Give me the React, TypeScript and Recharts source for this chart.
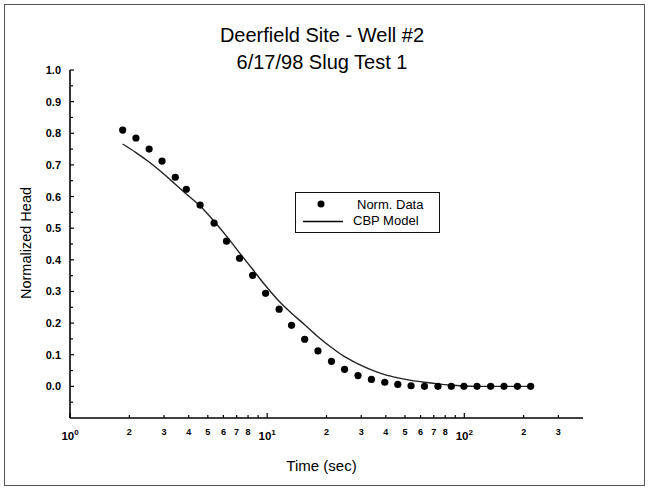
import React from "react";
import { ComposedChart, XAxis, YAxis, Scatter, Line, Legend, Label } from "recharts";

const FONT = '"Liberation Sans", Arial, sans-serif';

// elapsed time (sec) of each reading
const times = [
  1.85, 2.16, 2.52, 2.93, 3.42, 3.89, 4.57, 5.38, 6.22, 7.24, 8.44, 9.82, 11.5, 13.3, 15.5, 18.1,
  21.2, 24.7, 28.9, 33.8, 39.5, 46.0, 53.7, 62.8, 73.5, 85.9, 99.6, 116, 136, 159, 186, 217,
];

// measured normalized head
const normData = [
  0.81, 0.785, 0.75, 0.712, 0.661, 0.623, 0.573, 0.516, 0.459, 0.405, 0.351, 0.294, 0.244, 0.193, 0.149, 0.112,
  0.079, 0.054, 0.034, 0.022, 0.013, 0.006, 0.002, 0, 0, 0, 0, 0, 0, 0, 0, 0,
];

// CBP model fit
const cbpModel = [
  0.766, 0.739, 0.709, 0.676, 0.639, 0.608, 0.57, 0.522, 0.475, 0.422, 0.37, 0.318, 0.269, 0.231, 0.195, 0.157,
  0.123, 0.094, 0.071, 0.052, 0.037, 0.027, 0.019, 0.013, 0.008, 0.004, 0.001, 0, 0, 0, 0, 0,
];

const xTicks = [1, 2, 3, 4, 5, 6, 7, 8, 9, 10, 20, 30, 40, 50, 60, 70, 80, 90, 100, 200, 300];
const decadeExp: Record<number, string> = { 1: "0", 10: "1", 100: "2" };
const minorLabels = [2, 3, 4, 5, 6, 7, 8, 20, 30, 40, 50, 60, 70, 80, 200, 300];

const yTicks = [
  -0.05, 0, 0.05, 0.1, 0.15, 0.2, 0.25, 0.3, 0.35, 0.4, 0.45, 0.5, 0.55, 0.6, 0.65, 0.7, 0.75, 0.8, 0.85, 0.9,
  0.95, 1.0,
];

function TimeTick(props: any) {
  const { x, y, payload } = props;
  const v = payload.value;
  const exp = decadeExp[v];
  const major = exp !== undefined;
  const label = minorLabels.includes(v) ? String(v).charAt(0) : null;
  return (
    <g>
      <line x1={x} x2={x} y1={y} y2={y - (major ? 5 : 3)} stroke="#000" strokeWidth={1.2} />
      {major ? (
        <text x={x} y={y + 22} textAnchor="middle" fontSize={11.5} fontWeight="bold" fill="#000" fontFamily={FONT}>
          10
          <tspan dy={-5} fontSize={8}>
            {exp}
          </tspan>
        </text>
      ) : label ? (
        <text x={x} y={y + 17} textAnchor="middle" fontSize={9} fontWeight="bold" fill="#000" fontFamily={FONT}>
          {label}
        </text>
      ) : null}
    </g>
  );
}

function HeadTick(props: any) {
  const { x, y, payload } = props;
  const v = payload.value;
  const major = v >= 0 && Math.round(v * 100) % 10 === 0;
  return (
    <g>
      <line x1={x} x2={x + (major ? 4 : 3)} y1={y} y2={y} stroke="#000" strokeWidth={1.2} />
      {major && (
        <text
          x={x - 9}
          y={y}
          dy={4}
          textAnchor="end"
          fontSize={11}
          fontWeight="bold"
          fill="#000"
          fontFamily={FONT}
        >
          {v.toFixed(1)}
        </text>
      )}
    </g>
  );
}

const DataDot = (p: any) => <circle cx={p.cx} cy={p.cy} r={3.6} fill="#000" />;

const LegendBox = () => (
  <div style={{ width: 145, height: 41, border: "1px solid #111", boxSizing: "border-box", background: "#fff" }}>
    <svg width={143} height={39} style={{ display: "block" }}>
      <circle cx={25} cy={11} r={3.5} fill="#000" />
      <text x={61} y={15.5} fontSize={13} fontFamily={FONT} fill="#000">
        Norm. Data
      </text>
      <line x1={7} x2={47} y1={28.5} y2={28.5} stroke="#000" strokeWidth={1.3} />
      <text x={57} y={32} fontSize={13} fontFamily={FONT} fill="#000">
        CBP Model
      </text>
    </svg>
  </div>
);

export default function App() {
  const rows = times.map((t, i) => ({ t, head: normData[i], model: cbpModel[i] }));

  return (
    <div style={{ position: "relative", width: 650, height: 490, background: "#fff", fontFamily: FONT }}>
      <style>{`body{margin:0}`}</style>
      <div
        style={{
          position: "absolute",
          left: 4,
          top: 4,
          width: 641,
          height: 482,
          border: "1px solid #555",
          boxSizing: "border-box",
        }}
      />
      <div
        style={{
          position: "absolute",
          top: 22,
          left: 0,
          width: 644,
          textAlign: "center",
          fontSize: 20,
          lineHeight: "27px",
          color: "#000",
        }}
      >
        Deerfield Site - Well #2
        <br />
        6/17/98 Slug Test 1
      </div>
      <ComposedChart width={650} height={490} data={rows} margin={{ top: 70, right: 67, bottom: 42, left: 10 }}>
        <XAxis
          dataKey="t"
          type="number"
          scale="log"
          domain={[1, 400]}
          allowDataOverflow
          ticks={xTicks}
          interval={0}
          tickSize={0}
          tickMargin={0}
          tickLine={false}
          tick={<TimeTick />}
          height={30}
          axisLine={{ stroke: "#000", strokeWidth: 1.6 }}
        >
          <Label
            content={(p: any) => {
              const vb = p.viewBox;
              return (
                <text x={vb.x + vb.width / 2 - 5} y={vb.y + 53} textAnchor="middle" fontSize={15} fontFamily={FONT} fill="#000">
                  Time (sec)
                </text>
              );
            }}
          />
        </XAxis>
        <YAxis
          type="number"
          domain={[-0.1, 1.0]}
          allowDataOverflow
          ticks={yTicks}
          interval={0}
          tickSize={0}
          tickMargin={0}
          tickLine={false}
          tick={<HeadTick />}
          width={60}
          axisLine={{ stroke: "#000", strokeWidth: 1.6 }}
        >
          <Label
            content={(p: any) => {
              const vb = p.viewBox;
              const cx = vb.x + 16;
              const cy = vb.y + vb.height / 2 - 1;
              return (
                <text
                  x={cx}
                  y={cy}
                  transform={`rotate(-90 ${cx} ${cy})`}
                  textAnchor="middle"
                  dominantBaseline="central"
                  fontSize={14.5}
                  fontFamily={FONT}
                  fill="#000"
                >
                  Normalized Head
                </text>
              );
            }}
          />
        </YAxis>
        <Legend
          layout="vertical"
          align="center"
          verticalAlign="middle"
          content={<LegendBox />}
          wrapperStyle={{ left: 295, top: 192, width: 145, height: 41 }}
        />
        <Line
          dataKey="model"
          name="CBP Model"
          type="monotone"
          stroke="#222"
          strokeWidth={1.4}
          dot={false}
          activeDot={false}
          isAnimationActive={false}
        />
        <Scatter dataKey="head" name="Norm. Data" shape={<DataDot />} isAnimationActive={false} />
      </ComposedChart>
    </div>
  );
}
